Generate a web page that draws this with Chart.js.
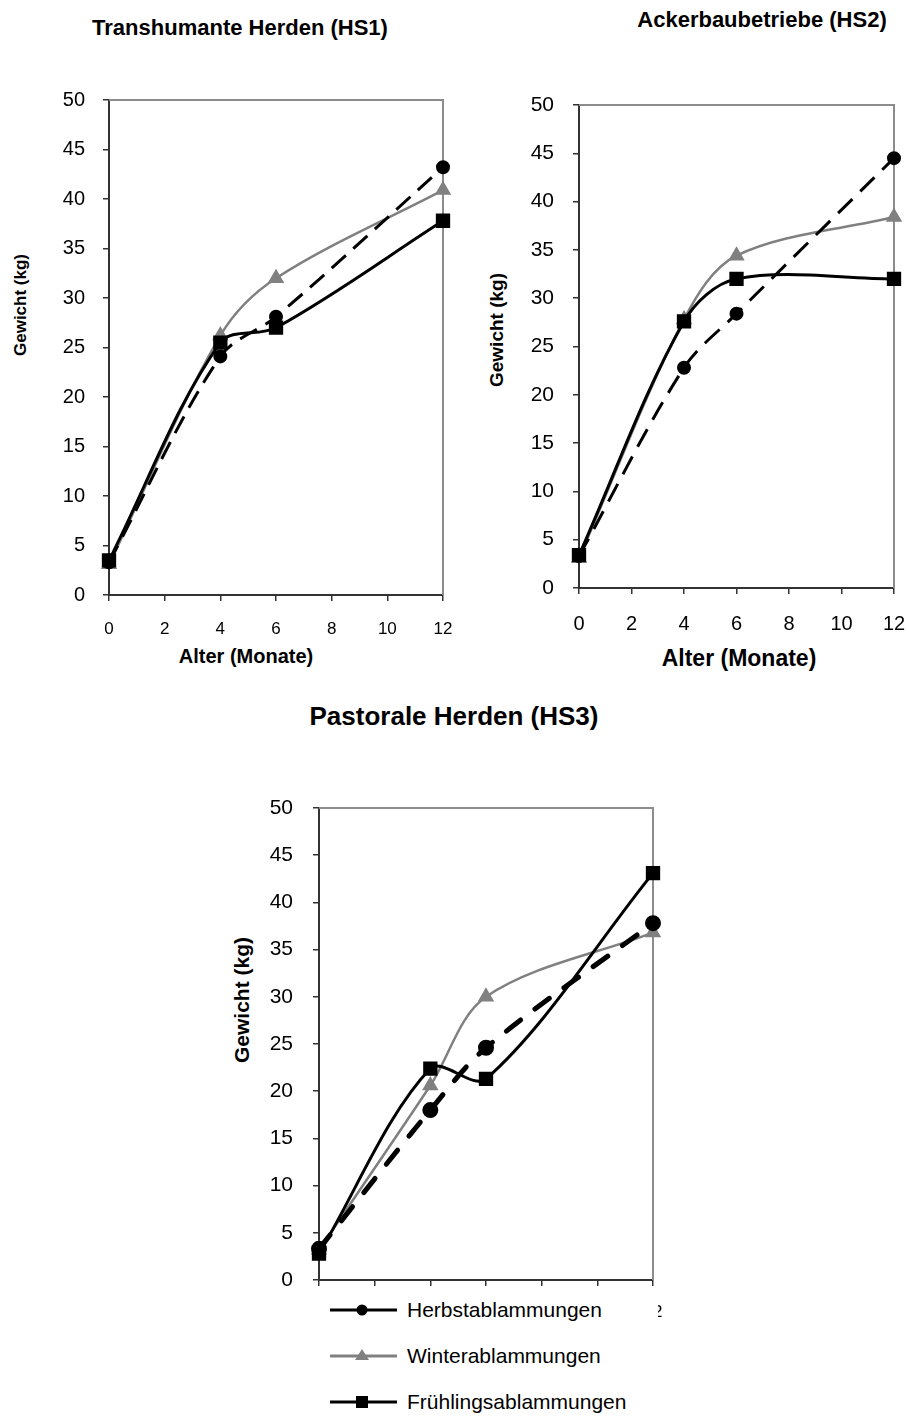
<!DOCTYPE html>
<html lang="de">
<head>
<meta charset="utf-8">
<script src="https://cdn.jsdelivr.net/npm/chart.js@4.4.0/dist/chart.umd.min.js"></script>
<style>
    body { margin: 0; width: 909px; height: 1418px; position: relative; background: #fff; overflow: hidden;
           font-family: "Liberation Sans", Arial, sans-serif; color: #000; }
    .title { position: absolute; font-weight: bold; white-space: nowrap; transform: translate(-50%, -50%); }
    .ytitle { position: absolute; font-weight: bold; white-space: nowrap; transform: translate(-50%, -50%) rotate(-90deg); }
    canvas { position: absolute; }
    #legend { position: absolute; left: 305px; top: 1291px; width: 353px; height: 127px; background: #fff; }
    .row { position: absolute; left: 25px; height: 24px; font-size: 21px; line-height: 24px; white-space: nowrap; }
    .row svg { position: absolute; left: 0; top: 2px; }
    .row span { position: absolute; left: 77px; top: 0; }
</style>
</head>
<body>
    <div class="title" style="left:240px; top:28px; font-size:22px;">Transhumante Herden (HS1)</div>
    <div class="title" style="left:762px; top:20px; font-size:22px;">Ackerbaubetriebe (HS2)</div>
    <div class="title" style="left:454px; top:716px; font-size:26px;">Pastorale Herden (HS3)</div>

    <div class="ytitle" style="left:21px; top:305px; font-size:17px;">Gewicht (kg)</div>
    <div class="ytitle" style="left:497px; top:330px; font-size:19px;">Gewicht (kg)</div>
    <div class="ytitle" style="left:242px; top:1000px; font-size:21px;">Gewicht (kg)</div>

    <div class="title" style="left:246px; top:656px; font-size:20px;">Alter (Monate)</div>
    <div class="title" style="left:739px; top:658px; font-size:23px;">Alter (Monate)</div>

    <canvas id="hs1" width="460" height="620" style="left:0px; top:60px;"></canvas>
    <canvas id="hs2" width="449" height="620" style="left:460px; top:60px;"></canvas>
    <canvas id="hs3" width="460" height="560" style="left:220px; top:770px;"></canvas>

    <div id="legend">
        <div class="row" style="top:7px;">
            <svg width="67" height="20"><line x1="0" y1="10" x2="67" y2="10" stroke="#000" stroke-width="3"/><circle cx="32" cy="10" r="5.5" fill="#000"/></svg>
            <span>Herbstablammungen</span>
        </div>
        <div class="row" style="top:53px;">
            <svg width="67" height="20"><line x1="0" y1="10" x2="67" y2="10" stroke="#808080" stroke-width="3"/><polygon points="32,3 39,14 25,14" fill="#808080"/></svg>
            <span>Winterablammungen</span>
        </div>
        <div class="row" style="top:99px;">
            <svg width="67" height="20"><line x1="0" y1="10" x2="67" y2="10" stroke="#000" stroke-width="3"/><rect x="26" y="4" width="12" height="12" fill="#000"/></svg>
            <span>Frühlingsablammungen</span>
        </div>
    </div>

    <script>
        // Alter in Monaten
        var ages = [0, 4, 6, 12];
        var seriesNames = ['Herbstablammungen', 'Winterablammungen', 'Frühlingsablammungen'];

        // Transhumante Herden (HS1)
        var hs1Herbst = [3.3, 24.1, 28.1, 43.2];
        var hs1Winter = [3.1, 26.2, 32.0, 40.9];
        var hs1Fruehling = [3.5, 25.5, 27.0, 37.8];

        // Ackerbaubetriebe (HS2)
        var hs2Herbst = [3.3, 22.8, 28.4, 44.5];
        var hs2Winter = [3.1, 27.8, 34.4, 38.4];
        var hs2Fruehling = [3.4, 27.6, 32.0, 32.0];

        // Pastorale Herden (HS3)
        var hs3Herbst = [3.3, 18.0, 24.6, 37.8];
        var hs3Winter = [3.2, 20.6, 30.0, 36.8];
        var hs3Fruehling = [2.8, 22.4, 21.3, 43.1];

        var xMin = 0, xMax = 12, xStep = 2;
        var yMin = 0, yMax = 50, yStep = 5;

        function points(values) {
            return values.map(function (v, i) { return { x: ages[i], y: v }; });
        }

        // grey top/right frame like the Excel plot area
        var frame = {
            id: 'frame',
            beforeDatasetsDraw: function (chart) {
                var a = chart.chartArea, ctx = chart.ctx;
                ctx.save();
                ctx.strokeStyle = '#8c8c8c';
                ctx.lineWidth = 2;
                ctx.beginPath();
                ctx.moveTo(a.left, a.top);
                ctx.lineTo(a.right, a.top);
                ctx.lineTo(a.right, a.bottom);
                ctx.stroke();
                ctx.restore();
            }
        };

        function drawChart(id, herbst, winter, fruehling, o) {
            var ctx = document.getElementById(id).getContext('2d');
            return new Chart(ctx, {
                type: 'line',
                data: {
                    datasets: [
                        {
                            label: seriesNames[0], data: points(herbst),
                            borderColor: '#000', backgroundColor: '#000',
                            borderWidth: o.dashWidth, borderDash: o.dash, borderCapStyle: o.cap,
                            pointStyle: 'circle', pointRadius: 5.5, order: 1, clip: false
                        },
                        {
                            label: seriesNames[1], data: points(winter),
                            borderColor: '#808080', backgroundColor: '#808080',
                            borderWidth: 2.5, pointStyle: 'triangle', pointRadius: 7, order: 2, clip: false
                        },
                        {
                            label: seriesNames[2], data: points(fruehling),
                            borderColor: '#000', backgroundColor: '#000',
                            borderWidth: 3, pointStyle: 'rect', pointRadius: 8, order: 0, clip: false
                        }
                    ]
                },
                options: {
                    responsive: false,
                    animation: false,
                    layout: { padding: { top: o.padTop, right: o.padRight, left: 0, bottom: 0 } },
                    plugins: { legend: { display: false }, tooltip: { enabled: false } },
                    elements: { line: { tension: 0.33 }, point: { borderWidth: 0 } },
                    scales: {
                        x: {
                            type: 'linear', min: xMin, max: xMax,
                            afterFit: function (s) {
                                s.height = o.xHeight;
                                s.paddingLeft = 0;
                                s.paddingRight = 0;
                            },
                            border: { color: '#333', width: 2 },
                            grid: { drawOnChartArea: false, color: '#333', lineWidth: 1.5, tickLength: 6 },
                            ticks: { stepSize: xStep, color: '#000', padding: o.xPad,
                                     font: { family: 'Liberation Sans, Arial', size: o.xFont } }
                        },
                        y: {
                            min: yMin, max: yMax,
                            afterFit: function (s) { s.width = o.yWidth; },
                            border: { color: '#333', width: 2 },
                            grid: { drawOnChartArea: false, color: '#333', lineWidth: 1.5, tickLength: 6 },
                            ticks: { stepSize: yStep, color: '#000', padding: o.yPad,
                                     font: { family: 'Liberation Sans, Arial', size: o.yFont } }
                        }
                    }
                },
                plugins: [frame]
            });
        }

        drawChart('hs1', hs1Herbst, hs1Winter, hs1Fruehling, {
            padTop: 40, padRight: 17, yWidth: 109, xHeight: 85,
            xPad: 18, xFont: 17, yPad: 18, yFont: 20,
            dash: [19, 10], dashWidth: 3, cap: 'butt'
        });

        drawChart('hs2', hs2Herbst, hs2Winter, hs2Fruehling, {
            padTop: 45, padRight: 15, yWidth: 119, xHeight: 92,
            xPad: 18, xFont: 20, yPad: 19, yFont: 21,
            dash: [20, 11], dashWidth: 3, cap: 'butt'
        });

        drawChart('hs3', hs3Herbst, hs3Winter, hs3Fruehling, {
            padTop: 38, padRight: 27, yWidth: 99, xHeight: 50,
            xPad: 16, xFont: 17, yPad: 20, yFont: 21,
            dash: [18, 18], dashWidth: 5, cap: 'round'
        });
    </script>
</body>
</html>
